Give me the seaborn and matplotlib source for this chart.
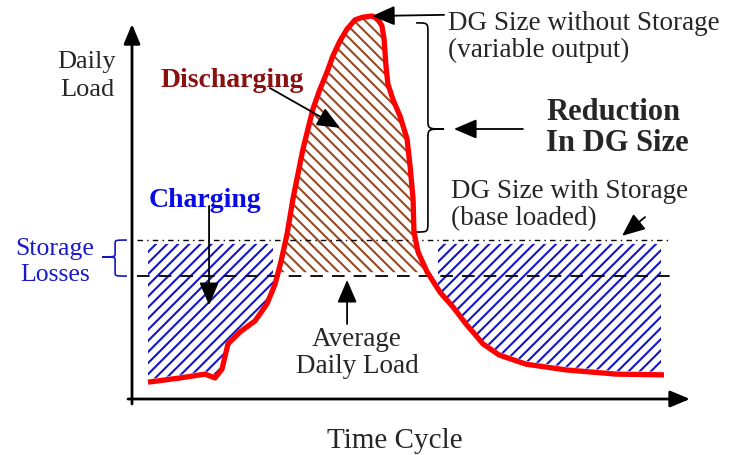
import matplotlib
matplotlib.use("Agg")
import matplotlib.pyplot as plt
from matplotlib.path import Path
from matplotlib.patches import PathPatch, Rectangle
import seaborn as sns
import numpy as np

# load profile (time in hours, load in % of peak)
time_h = [0.0, 1.49, 2.65, 3.12, 3.44, 3.72, 4.28, 4.98, 5.53, 5.91, 6.19, 6.47,
          6.74, 7.21, 7.67, 8.0, 8.33, 8.60, 8.93, 9.26, 9.63, 10.0, 10.42,
          10.70, 10.88, 10.98, 11.07, 11.16, 11.40, 11.72, 12.05, 12.19, 12.33,
          12.37, 12.56, 12.98, 13.58, 14.19, 14.79, 15.58, 16.33, 17.58, 19.44,
          21.77, 24.0]
load = [4.4, 5.5, 6.5, 5.5, 7.8, 14.4, 17.5, 20.4, 24.8, 30.0, 36.0, 43.1,
        52.2, 65.3, 75.7, 80.9, 85.4, 89.6, 93.5, 96.6, 99.0, 99.7, 100.0,
        99.2, 97.4, 94.0, 86.9, 82.2, 78.1, 73.9, 67.9, 60.8, 52.2,
        43.6, 38.4, 33.2, 27.9, 24.0, 19.6, 14.4, 11.5, 9.1, 7.6,
        6.5, 6.3]

storage_level = 41.5   # DG size with storage (base loaded)
average_load = 32.1    # average daily load
charge_windows = [(0.0, 5.81), (13.49, 23.86)]

sns.set_theme(style="white")
plt.rcParams['font.family'] = ['Liberation Serif', 'DejaVu Serif']
plt.rcParams['hatch.linewidth'] = 1.5

t = np.array(time_h)
y = np.array(load)

fig = plt.figure(figsize=(7.32, 4.56), dpi=100)
ax = fig.add_axes([0, 0, 1, 1])
ax.set_xlim(-6.884, 27.163)
ax.set_ylim(-14.62, 104.44)
ax.axis('off')

blue = "#1414C8"
brown = "#9A4A22"

# charging areas (below storage level)
for t0, t1 in charge_windows:
    poly = ax.fill_between(t, y + 0.8, storage_level - 1.0, where=y < storage_level - 1.0,
                           interpolate=True, facecolor='none', edgecolor=blue,
                           hatch='///', linewidth=0)
    poly.set_clip_path(Rectangle((t0, -10), t1 - t0, 70, transform=ax.transData))

# discharging area (above average)
ax.fill_between(t, y, average_load + 1.0, where=y > average_load + 1.0,
                interpolate=True, facecolor='none', edgecolor=brown,
                hatch='\\\\\\', linewidth=0)

ax.hlines(storage_level, -0.51, 24.19, colors='black', linestyles=(0, (4, 3, 1, 3)), lw=1.0)
ax.hlines(average_load, -0.51, 24.56, colors='black', linestyles=(0, (7, 5)), lw=1.3)

sns.lineplot(x=t, y=y, color='red', lw=3.8, ax=ax, solid_joinstyle='round',
             solid_capstyle='butt')

# axes arrows
axis_arrow = dict(arrowstyle='-|>,head_length=0.6,head_width=0.25', lw=2,
                  color='black', mutation_scale=20, shrinkA=0, shrinkB=0)
ax.annotate('', xy=(25.21, 0), xytext=(-0.93, 0), arrowprops=axis_arrow)
ax.annotate('', xy=(-0.744, 97.9), xytext=(-0.744, -1.3), arrowprops=axis_arrow)

note_arrow = dict(arrowstyle='-|>,head_length=0.7,head_width=0.3', lw=1.3,
                  color='black', mutation_scale=20, shrinkA=0, shrinkB=0)


def brace(x_edge, x_mid, x_tip, y_top, y_bot, y_tip, r, color, lw):
    verts = [(x_edge, y_top),
             (x_mid, y_top), (x_mid, y_top), (x_mid, y_top - r),
             (x_mid, y_tip + r),
             (x_mid, y_tip), (x_mid, y_tip), (x_tip, y_tip),
             (x_mid, y_tip), (x_mid, y_tip), (x_mid, y_tip - r),
             (x_mid, y_bot + r),
             (x_mid, y_bot), (x_mid, y_bot), (x_edge, y_bot)]
    codes = [Path.MOVETO, Path.CURVE4, Path.CURVE4, Path.CURVE4, Path.LINETO,
             Path.CURVE4, Path.CURVE4, Path.CURVE4, Path.CURVE4, Path.CURVE4,
             Path.CURVE4, Path.LINETO, Path.CURVE4, Path.CURVE4, Path.CURVE4]
    ax.add_patch(PathPatch(Path(verts, codes), facecolor='none', edgecolor=color, lw=lw))


brace(12.47, 13.02, 13.77, 98.2, 43.6, 70.5, 2.6, 'black', 1.2)
brace(-0.98, -1.53, -2.14, 41.5, 32.1, 37.1, 1.0, blue, 1.2)

# labels
ax.text(-2.84, 84.6, "Daily\nLoad", ha='center', va='center', fontsize=19, linespacing=1.32)
ax.text(11.49, -10.7, "Time Cycle", ha='center', va='center', fontsize=21)

ax.text(3.91, 83.3, "Discharging", ha='center', va='center', fontsize=20,
        fontweight='bold', color='#8B1010')
ax.annotate('', xy=(8.93, 70.8), xytext=(5.67, 81.2), arrowprops=note_arrow)

ax.text(2.65, 52.2, "Charging", ha='center', va='center', fontsize=20,
        fontweight='bold', color='#0A0AE6')
ax.annotate('', xy=(2.84, 24.5), xytext=(2.84, 50.4), arrowprops=note_arrow)

ax.text(13.95, 94.8, "DG Size without Storage\n(variable output)", ha='left',
        va='center', fontsize=19.5, linespacing=1.1)
ax.annotate('', xy=(10.42, 100.0), xytext=(13.77, 100.3), arrowprops=note_arrow)

ax.annotate('', xy=(14.23, 70.5), xytext=(17.44, 70.5), arrowprops=note_arrow)
ax.text(18.51, 71.0, "Reduction\nIn DG Size", ha='left', va='center', fontsize=22,
        fontweight='bold', linespacing=1.1)

ax.text(14.09, 50.9, "DG Size with Storage\n(base loaded)", ha='left', va='center',
        fontsize=19.5, linespacing=1.1)
ax.annotate('', xy=(22.05, 42.6), xytext=(23.12, 47.5), arrowprops=note_arrow)

ax.text(-4.33, 36.0, "Storage\nLosses", ha='center', va='center', fontsize=18.5,
        color='#1A1AC8', linespacing=1.25)

ax.text(9.72, 12.3, "Average\nDaily Load", ha='center', va='center', fontsize=19.5,
        linespacing=1.1)
ax.annotate('', xy=(9.26, 31.1), xytext=(9.26, 19.6), arrowprops=note_arrow)

fig.savefig("out.png", dpi=100, facecolor='white')
